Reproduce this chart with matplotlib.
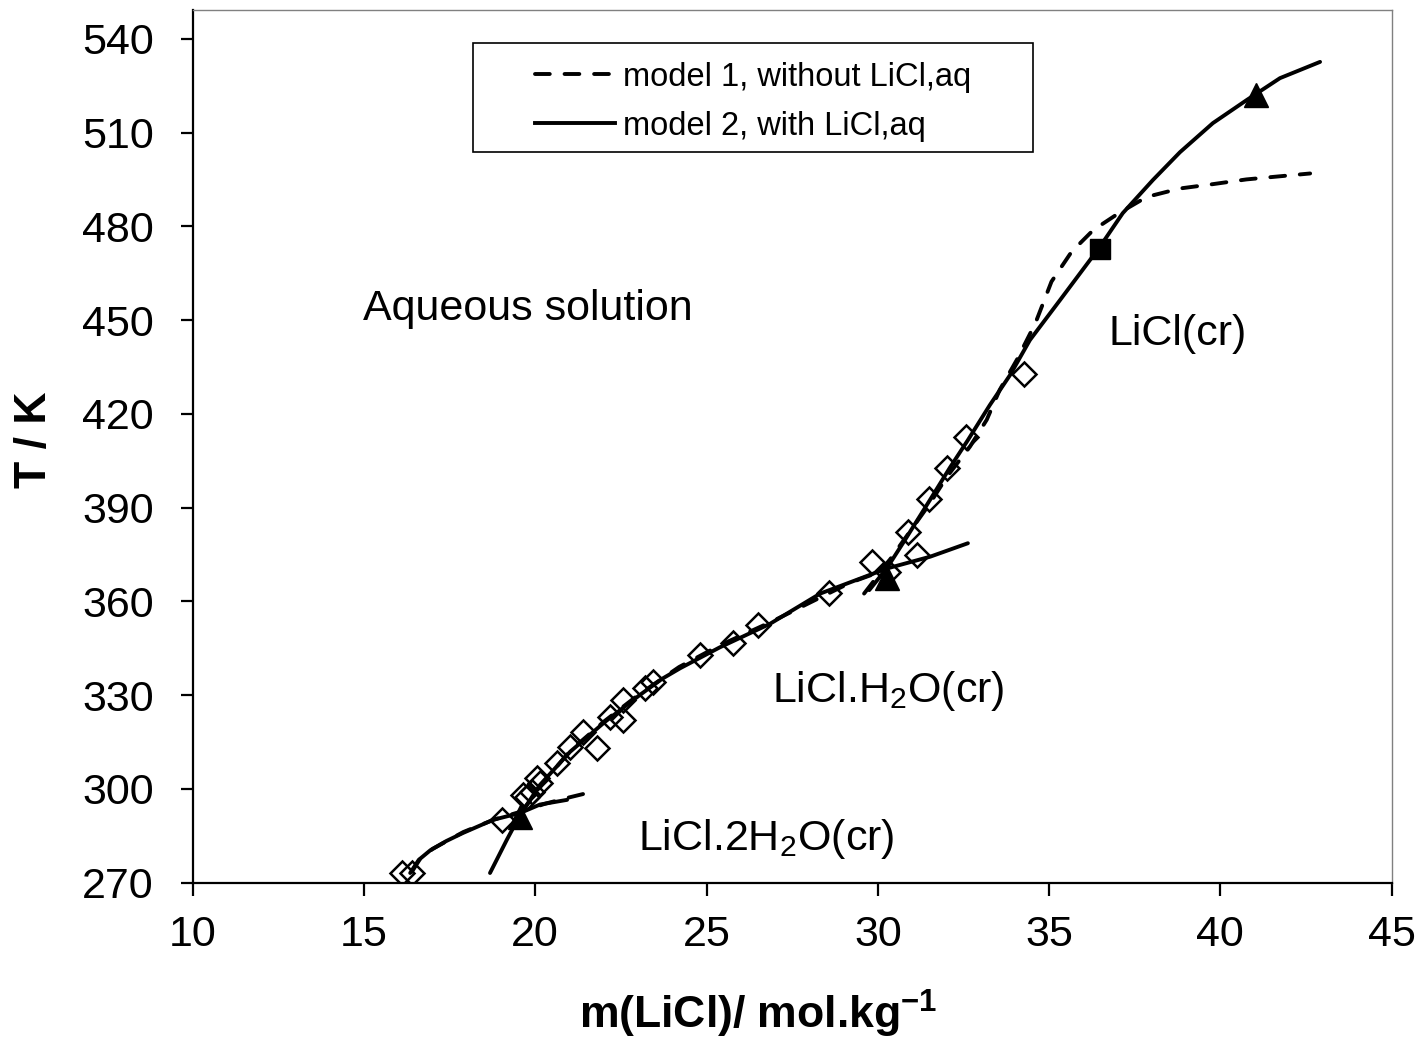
import matplotlib
matplotlib.use('Agg')
import matplotlib.pyplot as plt
from matplotlib.patches import Rectangle
from matplotlib.lines import Line2D

plt.rcParams['font.family'] = ['Liberation Sans', 'DejaVu Sans']
plt.rcParams['mathtext.fontset'] = 'custom'
plt.rcParams['mathtext.rm'] = 'Liberation Sans'
plt.rcParams['mathtext.it'] = 'Liberation Sans:italic'
plt.rcParams['mathtext.bf'] = 'Liberation Sans:bold'

# ---- experimental solubility data (open diamonds) ----
exp_m = [16.11, 16.40, 19.03, 19.64, 19.76, 19.90, 20.05, 20.14, 20.64, 21.02,
         21.40, 21.81, 22.19, 22.57, 22.57, 23.21, 23.45, 24.81, 25.78, 26.51,
         28.58, 29.83, 30.30, 30.88, 31.14, 31.49, 32.02, 32.57, 34.26]
exp_T = [273.1, 273.1, 290.1, 298.1, 297.5, 299.1, 303.6, 301.9, 308.3, 313.4,
         318.2, 313.1, 323.0, 322.0, 328.4, 332.3, 334.2, 342.9, 346.7, 352.5,
         362.7, 372.6, 369.4, 382.2, 374.8, 392.7, 402.6, 412.5, 432.7]

# ---- invariant points (filled triangles) ----
tri_m = [19.56, 30.27, 41.04]
tri_T = [291.1, 367.5, 522.0]
# ---- filled square ----
sq_m = [36.49]
sq_T = [472.7]

# ---- model 2 (solid) ----
m2_dih_m = [16.35, 16.60, 16.93, 17.40, 17.89, 18.77, 19.56, 20.14, 20.93]
m2_dih_T = [273.1, 277.3, 280.3, 283.3, 285.9, 290.1, 292.3, 295.0, 296.5]
m2_mono_m = [18.68, 19.17, 19.56, 20.14, 21.02, 22.04, 23.06, 23.70, 24.23,
             25.39, 26.85, 28.32, 30.26, 31.53, 32.63]
m2_mono_T = [273.1, 283.7, 291.7, 301.3, 311.9, 321.5, 330.1, 335.2, 338.6,
             345.3, 352.8, 362.5, 370.5, 374.3, 378.6]
m2_anh_m = [29.75, 30.27, 30.79, 31.52, 32.10, 32.63, 33.27, 33.86, 34.44,
            35.32, 36.48, 37.15, 38.03, 38.82, 39.78, 40.77, 41.74, 42.91]
m2_anh_T = [363.6, 370.7, 379.6, 392.4, 402.7, 411.6, 422.8, 432.4, 443.6,
            456.4, 473.4, 484.2, 494.8, 503.7, 513.0, 520.4, 527.4, 532.6]

# ---- model 1 (dashed) ----
m1_dih_m = [16.40, 16.65, 17.00, 17.90, 18.80, 19.60, 20.30, 21.00, 21.60]
m1_dih_T = [273.5, 277.8, 280.8, 286.2, 290.2, 292.8, 295.3, 297.3, 298.9]
m1_mono_m = [19.60, 20.20, 21.00, 22.00, 23.00, 24.20, 25.40, 26.90, 28.00,
             29.20, 30.20]
m1_mono_T = [292.5, 301.5, 312.0, 321.5, 330.0, 339.0, 346.0, 353.5, 359.5,
             366.0, 370.0]
m1_anh_m = [29.60, 30.20, 30.85, 31.50, 32.02, 32.69, 33.18, 33.56, 34.06,
            34.60, 35.07, 35.66, 36.29, 37.02, 37.85, 38.82, 39.79, 40.76,
            41.54, 42.62]
m1_anh_T = [362.5, 371.0, 381.0, 391.0, 399.9, 409.5, 418.1, 427.7, 437.3,
            449.0, 462.3, 471.9, 478.8, 484.1, 489.4, 492.1, 493.5, 495.0,
            495.8, 496.9]

x_ticks = [10, 15, 20, 25, 30, 35, 40, 45]
y_ticks = [270, 300, 330, 360, 390, 420, 450, 480, 510, 540]

fig = plt.figure(figsize=(14.25, 10.42), dpi=100)
ax = fig.add_axes([0.1352, 0.1529, 0.8414, 0.8375])

lw = 2.8
dash = (0, (3.8, 3.8))
for mm, tt in [(m1_dih_m, m1_dih_T), (m1_mono_m, m1_mono_T), (m1_anh_m, m1_anh_T)]:
    ax.plot(mm, tt, color='black', lw=lw, linestyle=dash, dash_capstyle='round',
            solid_joinstyle='round', zorder=3)
for mm, tt in [(m2_dih_m, m2_dih_T), (m2_mono_m, m2_mono_T), (m2_anh_m, m2_anh_T)]:
    ax.plot(mm, tt, color='black', lw=lw, solid_capstyle='round',
            solid_joinstyle='round', zorder=3)

ax.plot(exp_m, exp_T, linestyle='none', marker='D', ms=12.5, mfc='none',
        mec='black', mew=1.8, zorder=4)
ax.plot(tri_m, tri_T, linestyle='none', marker='^', ms=17, color='black', zorder=5)
ax.plot(sq_m, sq_T, linestyle='none', marker='s', ms=15, color='black', zorder=5)

ax.set_xlim(10, 45)
ax.set_ylim(270, 549.2)
ax.set_xticks(x_ticks)
ax.set_yticks(y_ticks)
ax.tick_params(axis='both', direction='out', length=9, width=1.6,
               labelsize=31, color='black')
ax.tick_params(axis='y', pad=19)
ax.tick_params(axis='x', pad=14)

for s in ['left', 'bottom']:
    ax.spines[s].set_linewidth(1.6)
    ax.spines[s].set_color('black')
for s in ['top', 'right']:
    ax.spines[s].set_linewidth(1.0)
    ax.spines[s].set_color('#808080')

ax.set_ylabel('T / K', fontsize=32, fontweight='bold', va='center')
ax.yaxis.set_label_coords(-0.1315, 0.507)
ax.set_xlabel(r'm(LiCl)/ mol.kg$^{\mathbf{-1}}$', fontsize=32, fontweight='bold', va='center')
ax.xaxis.set_label_coords(0.4715, -0.150)

# region labels
ax.text(14.98, 450.0, 'Aqueous solution', fontsize=31, va='baseline', ha='left')
ax.text(36.72, 442.0, 'LiCl(cr)', fontsize=31, va='baseline', ha='left')
ax.text(26.91, 327.9, r'LiCl.H$_2$O(cr)', fontsize=31, va='baseline', ha='left')
ax.text(23.0, 280.5, r'LiCl.2H$_2$O(cr)', fontsize=31, va='baseline', ha='left')

# legend
handles = [Line2D([], [], color='black', lw=lw, linestyle=dash, dash_capstyle='round'),
           Line2D([], [], color='black', lw=lw)]
labels = ['model 1, without LiCl,aq', 'model 2, with LiCl,aq']
leg = ax.legend(handles, labels, loc='center left', bbox_to_anchor=(0.2855, 0.895),
                bbox_transform=ax.transAxes, frameon=False, fontsize=23.5,
                handlelength=2.45, handletextpad=0.25, labelspacing=0.55,
                borderpad=0, borderaxespad=0)
ax.add_patch(Rectangle((0.2337, 0.8373), 0.467, 0.1249, transform=ax.transAxes,
                       fill=False, edgecolor='black', lw=1.2, zorder=6))

fig.savefig('out.png', dpi=100)
